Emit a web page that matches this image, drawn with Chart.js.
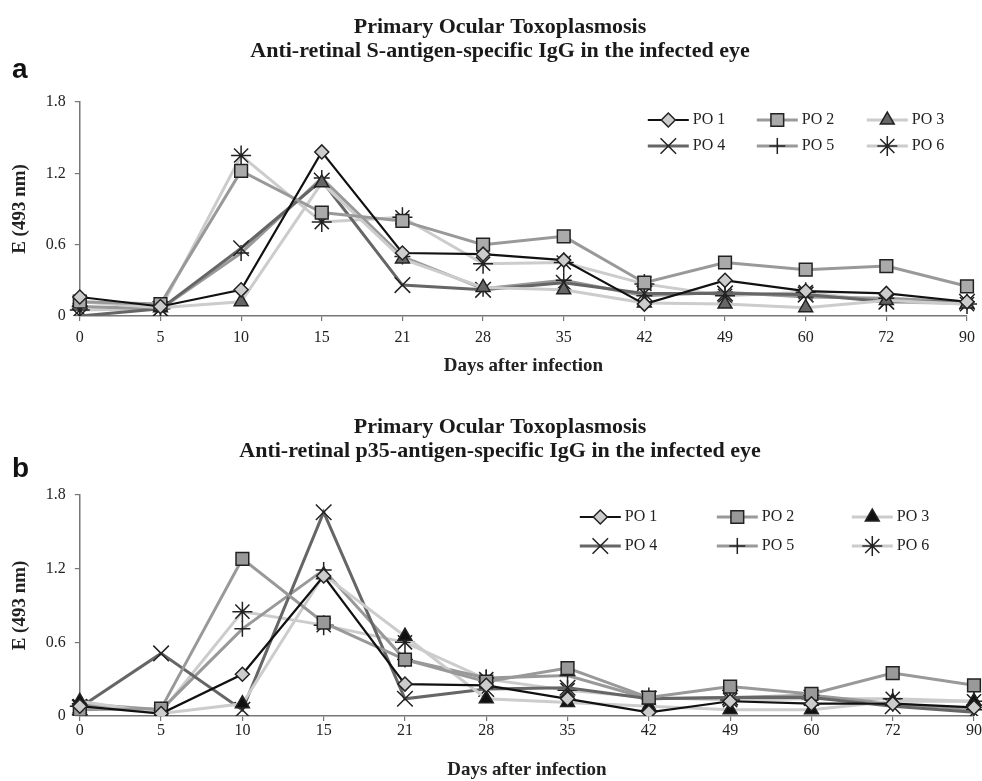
<!DOCTYPE html>
<html>
<head>
<meta charset="utf-8">
<script src="https://cdn.jsdelivr.net/npm/chart.js@4.4.0/dist/chart.umd.min.js"></script>
<style>
  body { margin: 0; background: #fff; overflow: hidden; }
  canvas { display: block; }
</style>
</head>
<body>
<canvas id="chartS" width="982" height="390"></canvas>
<canvas id="chartP" width="982" height="391"></canvas>
<script>
// days after infection (category axis)
const days = ['0', '5', '10', '15', '21', '28', '35', '42', '49', '60', '72', '90'];
const seriesNames = ['PO 1', 'PO 2', 'PO 3', 'PO 4', 'PO 5', 'PO 6'];
const yTickValues = [0, 0.6, 1.2, 1.8];
const yTickLabels = ['0', '0.6', '1.2', '1.8'];

// panel a: S-antigen
const sPO1 = [0.16, 0.08, 0.22, 1.38, 0.53, 0.52, 0.47, 0.10, 0.30, 0.21, 0.19, 0.12];
const sPO2 = [0.12, 0.10, 1.22, 0.87, 0.80, 0.60, 0.67, 0.28, 0.45, 0.39, 0.42, 0.25];
const sPO3 = [0.12, 0.07, 0.12, 1.12, 0.48, 0.24, 0.22, 0.11, 0.10, 0.07, 0.13, 0.10];
const sPO4 = [0.00, 0.06, 0.57, 1.14, 0.26, 0.22, 0.28, 0.19, 0.19, 0.18, 0.12, 0.12];
const sPO5 = [0.08, 0.06, 0.53, 1.16, 0.50, 0.23, 0.30, 0.17, 0.20, 0.16, 0.15, 0.12];
const sPO6 = [0.05, 0.06, 1.35, 0.79, 0.83, 0.44, 0.45, 0.27, 0.17, 0.20, 0.12, 0.10];

// panel b: p35-antigen
const pPO1 = [0.08, 0.02, 0.34, 1.14, 0.26, 0.25, 0.14, 0.03, 0.12, 0.10, 0.10, 0.07];
const pPO2 = [0.05, 0.06, 1.28, 0.76, 0.46, 0.28, 0.39, 0.15, 0.24, 0.18, 0.35, 0.25];
const pPO3 = [0.12, 0.02, 0.10, 1.15, 0.65, 0.14, 0.11, 0.08, 0.05, 0.05, 0.12, 0.12];
const pPO4 = [0.07, 0.51, 0.05, 1.66, 0.14, 0.22, 0.23, 0.14, 0.15, 0.15, 0.08, 0.03];
const pPO5 = [0.10, 0.05, 0.71, 1.19, 0.46, 0.31, 0.33, 0.14, 0.15, 0.17, 0.10, 0.05];
const pPO6 = [0.08, 0.03, 0.85, 0.74, 0.60, 0.30, 0.21, 0.15, 0.13, 0.14, 0.14, 0.12];

const serif = '"Liberation Serif", "Times New Roman", serif';
const lineColors = ['#111', '#999', '#ccc', '#666', '#999', '#ccc'];
const lineWidths = [2.2, 3, 3, 3, 3, 3];
const markerStyles = ['rectRot', 'rect', 'triangle', 'crossRot', 'cross', 'star'];
const markerRadius = [7, 9, 8, 11, 8, 10];

// title lines, legend and panel letter
const poDecor = {
    id: 'poDecor',
    afterDraw(chart, args, opts) {
        let ctx = chart.ctx;
        let area = chart.chartArea;
        ctx.save();
        ctx.fillStyle = '#1a1a1a';
        ctx.font = 'bold 22px ' + serif;
        ctx.textAlign = 'center';
        ctx.textBaseline = 'alphabetic';
        opts.title.forEach(function (line, i) {
            ctx.fillText(line, opts.titleX, opts.titleY[i]);
        });

        chart.data.datasets.forEach(function (ds, i) {
            let x0 = area.left + opts.cols[i % 3];
            let y = area.top + opts.rows[Math.floor(i / 3)];
            ctx.strokeStyle = ds.borderColor;
            ctx.lineWidth = ds.borderWidth;
            ctx.beginPath();
            ctx.moveTo(x0, y);
            ctx.lineTo(x0 + 41, y);
            ctx.stroke();
            ctx.fillStyle = ds.pointBackgroundColor;
            ctx.strokeStyle = ds.pointBorderColor;
            ctx.lineWidth = ds.pointBorderWidth;
            Chart.helpers.drawPoint(ctx, {
                pointStyle: ds.pointStyle,
                radius: ds.pointRadius,
                rotation: 0,
                borderWidth: ds.pointBorderWidth
            }, x0 + 20.5, y);
            ctx.fillStyle = '#222';
            ctx.font = '16px ' + serif;
            ctx.textBaseline = 'middle';
            ctx.textAlign = 'left';
            ctx.fillText(ds.label, x0 + 45, y);
        });

        ctx.fillStyle = '#111';
        ctx.font = 'bold 28px "Liberation Sans", Arial, sans-serif';
        ctx.textBaseline = 'alphabetic';
        ctx.textAlign = 'left';
        ctx.fillText(opts.letter, opts.letterX, opts.letterY);
        ctx.restore();
    }
};

function makeDatasets(values, fills) {
    return values.map(function (v, i) {
        return {
            label: seriesNames[i],
            data: v,
            borderColor: lineColors[i],
            borderWidth: lineWidths[i],
            tension: 0,
            fill: false,
            pointStyle: markerStyles[i],
            pointRadius: markerRadius[i],
            pointHoverRadius: markerRadius[i],
            pointBackgroundColor: fills[i],
            pointBorderColor: '#222',
            pointBorderWidth: 1.5
        };
    });
}

function makeOptions(cfg) {
    return {
        responsive: false,
        animation: false,
        layout: { autoPadding: false, padding: { left: 0, right: 0, top: cfg.topPad, bottom: cfg.bottomPad } },
        plugins: {
            legend: { display: false },
            tooltip: { enabled: false },
            title: { display: false },
            poDecor: cfg.decor
        },
        scales: {
            x: {
                offset: false,
                grid: { display: true, drawOnChartArea: false, drawTicks: true, tickLength: 5, color: '#777', lineWidth: 1.2 },
                border: { display: true, color: '#777', width: 1.5 },
                ticks: { color: '#222', font: { family: serif, size: 16 }, padding: cfg.xTickPad, maxRotation: 0, autoSkip: false },
                title: {
                    display: true,
                    text: 'Days after infection',
                    color: '#222',
                    font: { family: serif, size: 19, weight: 'bold' },
                    padding: { top: cfg.xTitleTop, bottom: 0 }
                }
            },
            y: {
                min: 0,
                max: 1.8,
                afterBuildTicks: function (scale) {
                    scale.ticks = yTickValues.map(function (v) { return { value: v }; });
                },
                grid: { display: true, drawOnChartArea: false, drawTicks: true, tickLength: 5, color: '#777', lineWidth: 1.2 },
                border: { display: true, color: '#777', width: 1.5 },
                ticks: {
                    color: '#222',
                    font: { family: serif, size: 16 },
                    padding: 9,
                    callback: function (v) { return yTickLabels[yTickValues.indexOf(v)]; }
                },
                title: {
                    display: true,
                    text: 'E (493 nm)',
                    color: '#222',
                    font: { family: serif, size: 19, weight: 'bold' },
                    padding: { top: 9, bottom: 5 }
                }
            }
        }
    };
}

new Chart(document.getElementById('chartS'), {
    type: 'line',
    data: {
        labels: days,
        datasets: makeDatasets([sPO1, sPO2, sPO3, sPO4, sPO5, sPO6],
            ['#ccc', '#aaa', '#666', '#222', '#222', '#222'])
    },
    options: makeOptions({
        topPad: 102, bottomPad: 13, xTickPad: 7, xTitleTop: 0,
        decor: {
            title: ['Primary Ocular Toxoplasmosis', 'Anti-retinal S-antigen-specific IgG in the infected eye'],
            titleX: 500, titleY: [33, 57],
            cols: [568, 677, 787], rows: [18, 44],
            letter: 'a', letterX: 12, letterY: 78
        }
    }),
    plugins: [poDecor]
});

new Chart(document.getElementById('chartP'), {
    type: 'line',
    data: {
        labels: days,
        datasets: makeDatasets([pPO1, pPO2, pPO3, pPO4, pPO5, pPO6],
            ['#ccc', '#999', '#111', '#222', '#222', '#222'])
    },
    options: makeOptions({
        topPad: 105, bottomPad: 0, xTickPad: 0, xTitleTop: 18,
        decor: {
            title: ['Primary Ocular Toxoplasmosis', 'Anti-retinal p35-antigen-specific IgG in the infected eye'],
            titleX: 500, titleY: [43, 67],
            cols: [500, 637, 772], rows: [22, 51],
            letter: 'b', letterX: 12, letterY: 87
        }
    }),
    plugins: [poDecor]
});
</script>
</body>
</html>
